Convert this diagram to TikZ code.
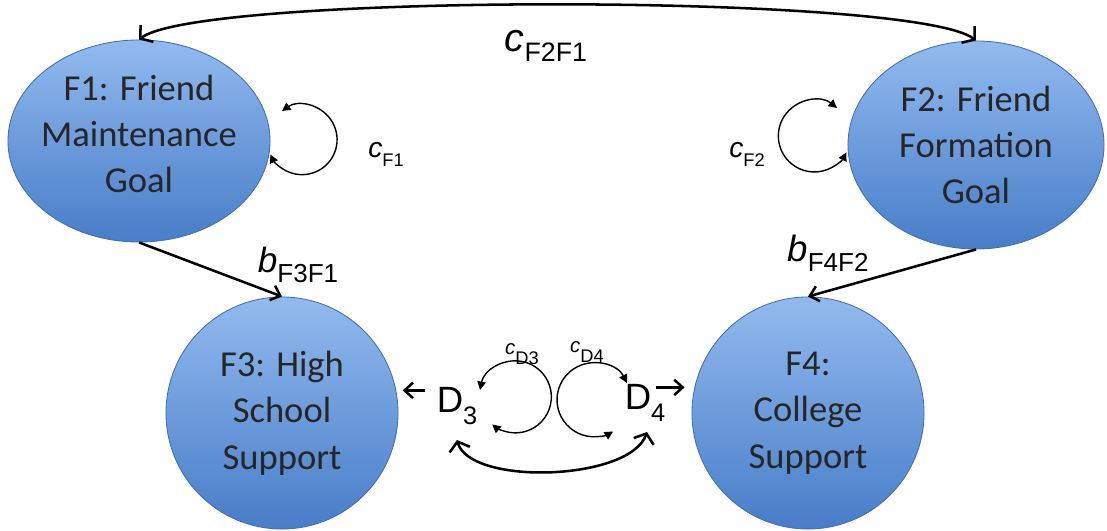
\documentclass[tikz,border=0pt]{standalone}
\usepackage{fontspec}
\setmainfont{Carlito}
\newfontfamily\labelfont{Liberation Sans}
\usetikzlibrary{arrows.meta, shapes.geometric, calc}

\definecolor{goaltop}{RGB}{146,186,238}
\definecolor{goalbottom}{RGB}{72,125,200}
\definecolor{goalline}{RGB}{64,110,176}

% coefficient label: letter, subscript, sizes, drop of subscript
\newcommand{\coef}[5]{{\labelfont\fontsize{#3}{#3}\selectfont\itshape #1}{\labelfont\fontsize{#4}{#4}\selectfont\raisebox{-#5}{#2}}}
\newcommand{\dvar}[1]{{\labelfont\fontsize{26}{26}\selectfont D}{\labelfont\fontsize{18}{18}\selectfont\raisebox{-8pt}{#1}}}

\begin{document}
\begin{tikzpicture}[
    x=0.025cm, y=0.025cm,
    goal/.style={ellipse, draw=goalline, line width=0.6pt, top color=goaltop, bottom color=goalbottom, inner sep=0pt},
    support/.style={goal, circle, minimum size=5.8cm},
    goaltext/.style={align=center, text=black!85, font=\fontsize{26}{33}\selectfont},
    coefnode/.style={anchor=base, inner sep=0pt},
    edge/.style={-{Straight Barb[length=6pt,width=11pt]}, line width=1.8pt},
    bothedge/.style={{Straight Barb[length=6pt,width=15pt]}-{Straight Barb[length=6pt,width=15pt]}, line width=1.8pt},
    selfloop/.style={{Triangle[length=6pt,width=6pt]}-{Triangle[length=6pt,width=6pt]}, line width=1pt}
]
\useasboundingbox (0,0) rectangle (1107,531);

% goals
\node[goal, minimum width=6.55cm, minimum height=5.05cm] (f1) at (139,390) {};
\node[goaltext] (f1text) at ([yshift=5pt]f1.center) {F1: Friend\\Maintenance\\Goal};
\node[goal, minimum width=6.4cm, minimum height=5.2cm] (f2) at (976,386) {};
\node[goaltext] (f2text) at (f2) {F2: Friend\\Formation\\Goal};

% supports
\node[support] (f3) at (282,118) {};
\node[goaltext] (f3text) at (f3) {F3: High\\School\\Support};
\node[support] (f4) at (808,118) {};
\node[goaltext] (f4text) at (f4) {F4:\\College\\Support};

% dummies
\node[coefnode] (d3) at (457,118) {\dvar{3}};
\node[coefnode] (d4) at (645,121) {\dvar{4}};

% paths between factors
\draw[bothedge] (f2.north) .. controls (915,538) and (200,538) .. (f1.north);
\draw[edge] (f1.south) -- (f3.north);  % F1 -> F3
\draw[edge] (f2.south) -- (f4.north);  % F2 -> F4

\coordinate (d3out) at ([shift={(-8pt,-2pt)}]d3.north west);
\coordinate (d4out) at ([shift={(-7pt,-2pt)}]d4.north east);
\draw[edge, shorten >=3pt] (d3out) -- (d3out -| f3.east);
\draw[edge, shorten >=5pt] (d4out) -- (d4out -| f4.west);

\coordinate (d3low) at (457,91);
\coordinate (d4low) at (647,99);
\draw[bothedge] (d3low) .. controls (470,45) and (630,50) .. (d4low);

% self loops
\coordinate (f1loop) at (282,420);
\coordinate (f2loop) at (837,423);
\coordinate (d3loop) at (480,141);
\coordinate (d4loop) at (627,148);
\draw[selfloop] (f1loop) arc[start angle=125, end angle=-155, radius=35];
\draw[selfloop] (f2loop) arc[start angle=51, end angle=333, radius=36];
\draw[selfloop] (d3loop) arc[start angle=169, end angle=-130, radius=36];
\draw[selfloop] (d4loop) arc[start angle=27, end angle=301, radius=37];

% coefficients
\node[coefnode] (cf2f1) at (546,479) {\coef{c}{F2F1}{28}{19}{7pt}};
\node[coefnode] (cf1) at (386,373) {\coef{c}{F1}{20}{13}{6pt}};
\node[coefnode] (cf2) at (747,373) {\coef{c}{F2}{20}{13}{6pt}};
\node[coefnode] (bf3f1) at (298,258) {\coef{b}{F3F1}{25}{18.5}{7pt}};
\node[coefnode] (bf4f2) at (828,269) {\coef{b}{F4F2}{26}{18.5}{7pt}};
\node[coefnode] (cd3) at (522,176) {\coef{c}{D3}{14.5}{13}{7pt}};
\node[coefnode] (cd4) at (587,178) {\coef{c}{D4}{14.5}{13}{7pt}};

\end{tikzpicture}
\end{document}
